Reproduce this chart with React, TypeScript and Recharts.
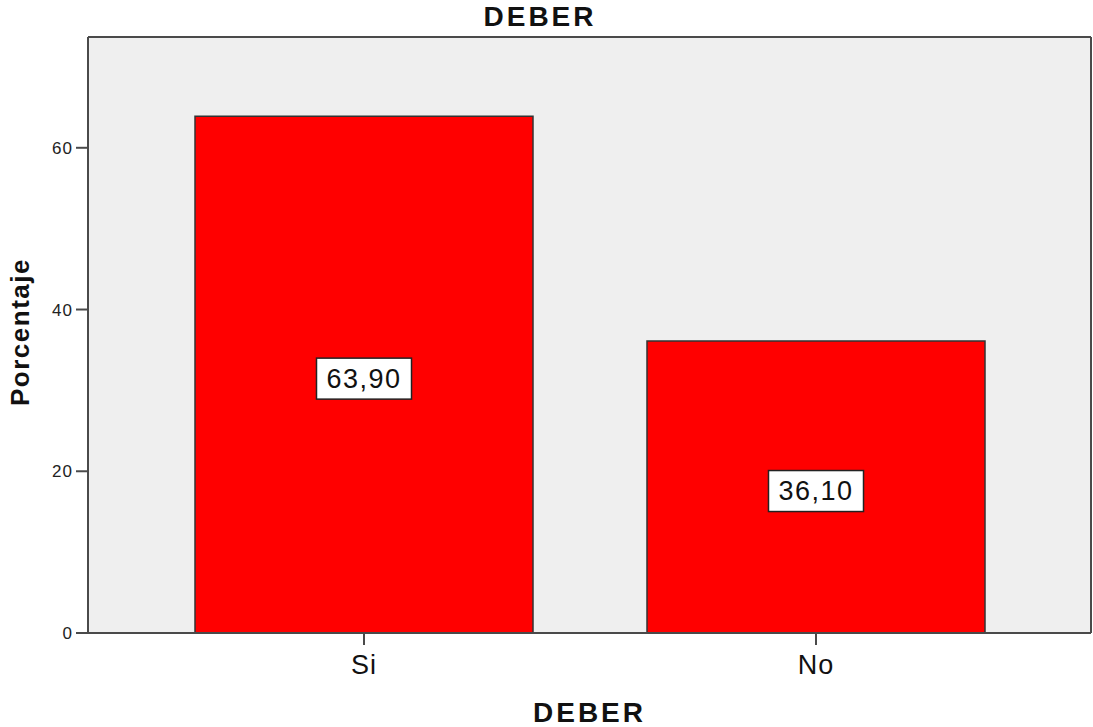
import { Bar, BarChart, CartesianGrid, Label, LabelList, XAxis, YAxis } from "recharts";

const categories = ["Si", "No"];
const percentages = [63.9, 36.1];
const yTicks = [0, 20, 40, 60];

const data = categories.map((name, i) => ({ name, value: percentages[i] }));

const AXIS = "#4a4a4a";
const FONT = "'Liberation Sans', Arial, sans-serif";

const fmt = (v: number) => v.toFixed(2).replace(".", ",");

function ValueBox(props: any) {
  const { x, y, width, height, value } = props;
  const cx = Number(x) + Number(width) / 2;
  const cy = Number(y) + Number(height) / 2 + 4;
  const w = 95;
  const h = 41;
  return (
    <g>
      <rect x={cx - w / 2} y={cy - h / 2} width={w} height={h} fill="#fff" stroke="#222" strokeWidth={1.5} />
      <text
        x={cx}
        y={cy}
        textAnchor="middle"
        dominantBaseline="central"
        fontFamily={FONT}
        fontSize={27}
        letterSpacing={1.5}
        fill="#111"
      >
        {fmt(Number(value))}
      </text>
    </g>
  );
}

function YTitle(props: any) {
  const vb = props.viewBox || {};
  const x = Number(vb.x) + 20;
  const y = Number(vb.y) + Number(vb.height) / 2 - 3;
  return (
    <text
      x={x}
      y={y}
      transform={`rotate(-90 ${x} ${y})`}
      textAnchor="middle"
      dominantBaseline="central"
      fontFamily={FONT}
      fontWeight="bold"
      fontSize={26}
      letterSpacing={1.5}
      fill="#111"
    >
      Porcentaje
    </text>
  );
}

export default function App() {
  return (
    <div style={{ position: "absolute", left: 0, top: 0, width: 1093, height: 727, background: "#fff" }}>
      <div
        style={{
          position: "absolute",
          left: 0,
          width: 1080,
          top: 1,
          textAlign: "center",
          fontFamily: FONT,
          fontWeight: "bold",
          fontSize: 28,
          letterSpacing: 3,
          color: "#111",
          lineHeight: "32px",
        }}
      >
        DEBER
      </div>
      <BarChart
        width={1093}
        height={727}
        data={data}
        margin={{ top: 37, right: 2, bottom: 0, left: 0 }}
        barSize={338}
      >
        {/* plot background, plus the top and right frame lines */}
        <CartesianGrid
          fill="#efefef"
          stroke={AXIS}
          strokeWidth={2}
          horizontalCoordinatesGenerator={({ offset }: any) => [offset.top]}
          verticalCoordinatesGenerator={({ offset }: any) => [offset.left + offset.width]}
        />
        <XAxis
          dataKey="name"
          height={94}
          padding={{ left: 50, right: 49 }}
          axisLine={{ stroke: AXIS, strokeWidth: 2 }}
          tickLine={{ stroke: AXIS, strokeWidth: 2 }}
          tickSize={12}
          tickMargin={10}
          tick={{ fontSize: 27, fontFamily: FONT, fill: "#111", letterSpacing: 1 }}
        >
          <Label
            value="DEBER"
            position="insideBottom"
            offset={5}
            style={{ fontSize: 28, fontWeight: "bold", fontFamily: FONT, fill: "#111", letterSpacing: 3 }}
          />
        </XAxis>
        <YAxis
          width={88}
          domain={[0, 73.7]}
          ticks={yTicks}
          allowDataOverflow
          axisLine={{ stroke: AXIS, strokeWidth: 2 }}
          tickLine={{ stroke: AXIS, strokeWidth: 2 }}
          tickSize={12}
          tickMargin={3}
          tick={{ fontSize: 17, fontFamily: FONT, fill: "#222", letterSpacing: 1 }}
        >
          <Label content={<YTitle />} />
        </YAxis>
        <Bar dataKey="value" fill="#ff0000" stroke="#333" strokeWidth={1.5} isAnimationActive={false}>
          <LabelList dataKey="value" content={<ValueBox />} />
        </Bar>
      </BarChart>
    </div>
  );
}
